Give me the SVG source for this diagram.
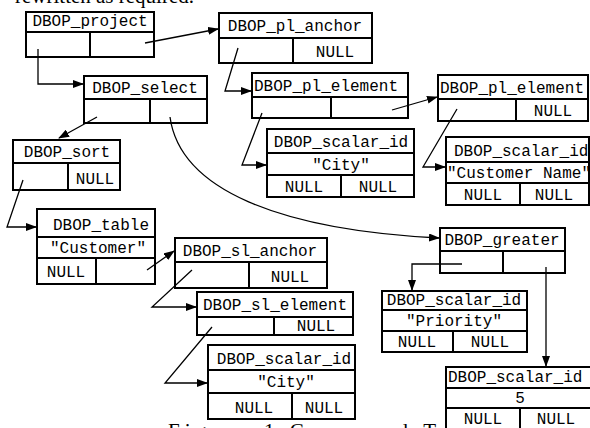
<svg xmlns="http://www.w3.org/2000/svg" width="590" height="428" viewBox="0 0 590 428">
<defs>
<marker id="ah" markerUnits="userSpaceOnUse" markerWidth="11" markerHeight="8" refX="10" refY="4" orient="auto">
<path d="M0,0 L11,4 L0,8 z" fill="#000"/>
</marker>
<style>
.box{fill:#fff;stroke:#000;stroke-width:2}
.ln{stroke:#000;stroke-width:2;fill:none}
.t{font-family:"Liberation Mono","Courier New",monospace;font-size:16px;fill:#000}
.c{text-anchor:middle}
.cap{font-family:"Liberation Serif","Times New Roman",serif;font-size:21px;fill:#000}
.con{stroke:#000;stroke-width:1.3;fill:none;marker-end:url(#ah)}
</style>
</defs>
<rect width="590" height="428" fill="#fff"/>
<text class="cap" x="194" y="3" text-anchor="end">rewritten as required.</text>
<text class="cap" x="168" y="438" textLength="268" lengthAdjust="spacing">Figure 1 Command T</text>

<g id="project">
<rect class="box" x="26" y="12" width="128" height="45"/>
<line class="ln" x1="26" y1="32" x2="154" y2="32"/>
<line class="ln" x1="90" y1="32" x2="90" y2="57"/>
<text class="t c" x="90" y="26">DBOP_project</text>
</g>

<g id="pl_anchor">
<rect class="box" x="219" y="13" width="153" height="50"/>
<line class="ln" x1="219" y1="38" x2="372" y2="38"/>
<line class="ln" x1="293" y1="38" x2="293" y2="63"/>
<text class="t c" x="295" y="31">DBOP_pl_anchor</text>
<text class="t c" x="335" y="57">NULL</text>
</g>

<g id="select">
<rect class="box" x="84" y="76" width="123" height="47"/>
<line class="ln" x1="84" y1="99" x2="207" y2="99"/>
<line class="ln" x1="150" y1="99" x2="150" y2="123"/>
<text class="t c" x="145" y="93">DBOP_select</text>
</g>

<g id="pl_element1">
<rect class="box" x="252" y="73" width="156" height="45"/>
<line class="ln" x1="252" y1="97" x2="408" y2="97"/>
<line class="ln" x1="331" y1="97" x2="331" y2="118"/>
<text class="t" x="254" y="91">DBOP_pl_element</text>
</g>

<g id="pl_element2">
<rect class="box" x="438" y="75" width="150" height="46"/>
<line class="ln" x1="438" y1="99" x2="588" y2="99"/>
<line class="ln" x1="516" y1="99" x2="516" y2="121"/>
<text class="t" x="440" y="93">DBOP_pl_element</text>
<text class="t c" x="553" y="116">NULL</text>
</g>

<g id="scalar_city1">
<rect class="box" x="267" y="129" width="147" height="68"/>
<line class="ln" x1="267" y1="153" x2="414" y2="153"/>
<line class="ln" x1="267" y1="175" x2="414" y2="175"/>
<line class="ln" x1="341" y1="175" x2="341" y2="197"/>
<text class="t c" x="341" y="147">DBOP_scalar_id</text>
<text class="t c" x="341" y="170">"City"</text>
<text class="t c" x="304" y="192">NULL</text>
<text class="t c" x="378" y="192">NULL</text>
</g>

<g id="scalar_custname">
<rect class="box" x="446" y="137" width="143" height="68"/>
<line class="ln" x1="446" y1="162" x2="589" y2="162"/>
<line class="ln" x1="446" y1="183" x2="589" y2="183"/>
<line class="ln" x1="520" y1="183" x2="520" y2="205"/>
<text class="t" x="454" y="156">DBOP_scalar_id</text>
<text class="t" x="447" y="178">"Customer Name"</text>
<text class="t c" x="483" y="200">NULL</text>
<text class="t c" x="554" y="200">NULL</text>
</g>

<g id="sort">
<rect class="box" x="13" y="140" width="107" height="50"/>
<line class="ln" x1="13" y1="163" x2="120" y2="163"/>
<line class="ln" x1="68" y1="163" x2="68" y2="190"/>
<text class="t c" x="67" y="157">DBOP_sort</text>
<text class="t c" x="95" y="184">NULL</text>
</g>

<g id="table">
<rect class="box" x="37" y="209" width="118" height="75"/>
<line class="ln" x1="37" y1="237" x2="155" y2="237"/>
<line class="ln" x1="37" y1="258" x2="155" y2="258"/>
<line class="ln" x1="96" y1="258" x2="96" y2="284"/>
<text class="t c" x="101" y="230">DBOP_table</text>
<text class="t c" x="98" y="253">"Customer"</text>
<text class="t c" x="66" y="277">NULL</text>
</g>

<g id="sl_anchor">
<rect class="box" x="175" y="238" width="152" height="50"/>
<line class="ln" x1="175" y1="262" x2="327" y2="262"/>
<line class="ln" x1="249" y1="262" x2="249" y2="288"/>
<text class="t c" x="250" y="256">DBOP_sl_anchor</text>
<text class="t c" x="290" y="282">NULL</text>
</g>

<g id="sl_element">
<rect class="box" x="197" y="292" width="156" height="43"/>
<line class="ln" x1="197" y1="317" x2="353" y2="317"/>
<line class="ln" x1="274" y1="317" x2="274" y2="335"/>
<text class="t c" x="275" y="310">DBOP_sl_element</text>
<text class="t c" x="316" y="331">NULL</text>
</g>

<g id="scalar_city2">
<rect class="box" x="208" y="345" width="147" height="74"/>
<line class="ln" x1="208" y1="370" x2="355" y2="370"/>
<line class="ln" x1="208" y1="393" x2="355" y2="393"/>
<line class="ln" x1="292" y1="393" x2="292" y2="419"/>
<text class="t c" x="284" y="364">DBOP_scalar_id</text>
<text class="t c" x="286" y="387">"City"</text>
<text class="t c" x="254" y="413">NULL</text>
<text class="t c" x="324" y="413">NULL</text>
</g>

<g id="greater">
<rect class="box" x="440" y="228" width="125" height="45"/>
<line class="ln" x1="440" y1="251" x2="565" y2="251"/>
<line class="ln" x1="503" y1="251" x2="503" y2="273"/>
<text class="t c" x="502" y="245">DBOP_greater</text>
</g>

<g id="scalar_priority">
<rect class="box" x="382" y="291" width="145" height="61"/>
<line class="ln" x1="382" y1="310" x2="527" y2="310"/>
<line class="ln" x1="382" y1="331" x2="527" y2="331"/>
<line class="ln" x1="453" y1="331" x2="453" y2="352"/>
<text class="t c" x="454" y="305">DBOP_scalar_id</text>
<text class="t c" x="454" y="326">"Priority"</text>
<text class="t c" x="417" y="347">NULL</text>
<text class="t c" x="490" y="347">NULL</text>
</g>

<g id="scalar_5">
<rect class="box" x="446" y="367" width="150" height="70"/>
<line class="ln" x1="446" y1="388" x2="596" y2="388"/>
<line class="ln" x1="446" y1="408" x2="596" y2="408"/>
<line class="ln" x1="520" y1="408" x2="520" y2="430"/>
<text class="t" x="448" y="382">DBOP_scalar_id</text>
<text class="t c" x="520" y="403">5</text>
<text class="t c" x="483" y="424">NULL</text>
<text class="t c" x="556" y="424">NULL</text>
</g>

<g id="connectors">
<path class="con" d="M145,43 L218,29"/>
<path class="con" d="M38,49 V84 H83"/>
<path class="con" d="M238,48 L225,91 H251"/>
<path class="con" d="M97,117 L59,138"/>
<path class="con" d="M170,117 C180,190 280,230 439,238"/>
<path class="con" d="M392,110 L437,97"/>
<path class="con" d="M262,113 L242,165 H266"/>
<path class="con" d="M457,109 L423,167 H445"/>
<path class="con" d="M23,180 L7,227 H36"/>
<path class="con" d="M147,270 L174,251"/>
<path class="con" d="M192,270 L152,307 H196"/>
<path class="con" d="M212,327 L165,383 H207"/>
<path class="con" d="M462,264 H412 V290"/>
<path class="con" d="M546,267 V366"/>
</g>
</svg>
